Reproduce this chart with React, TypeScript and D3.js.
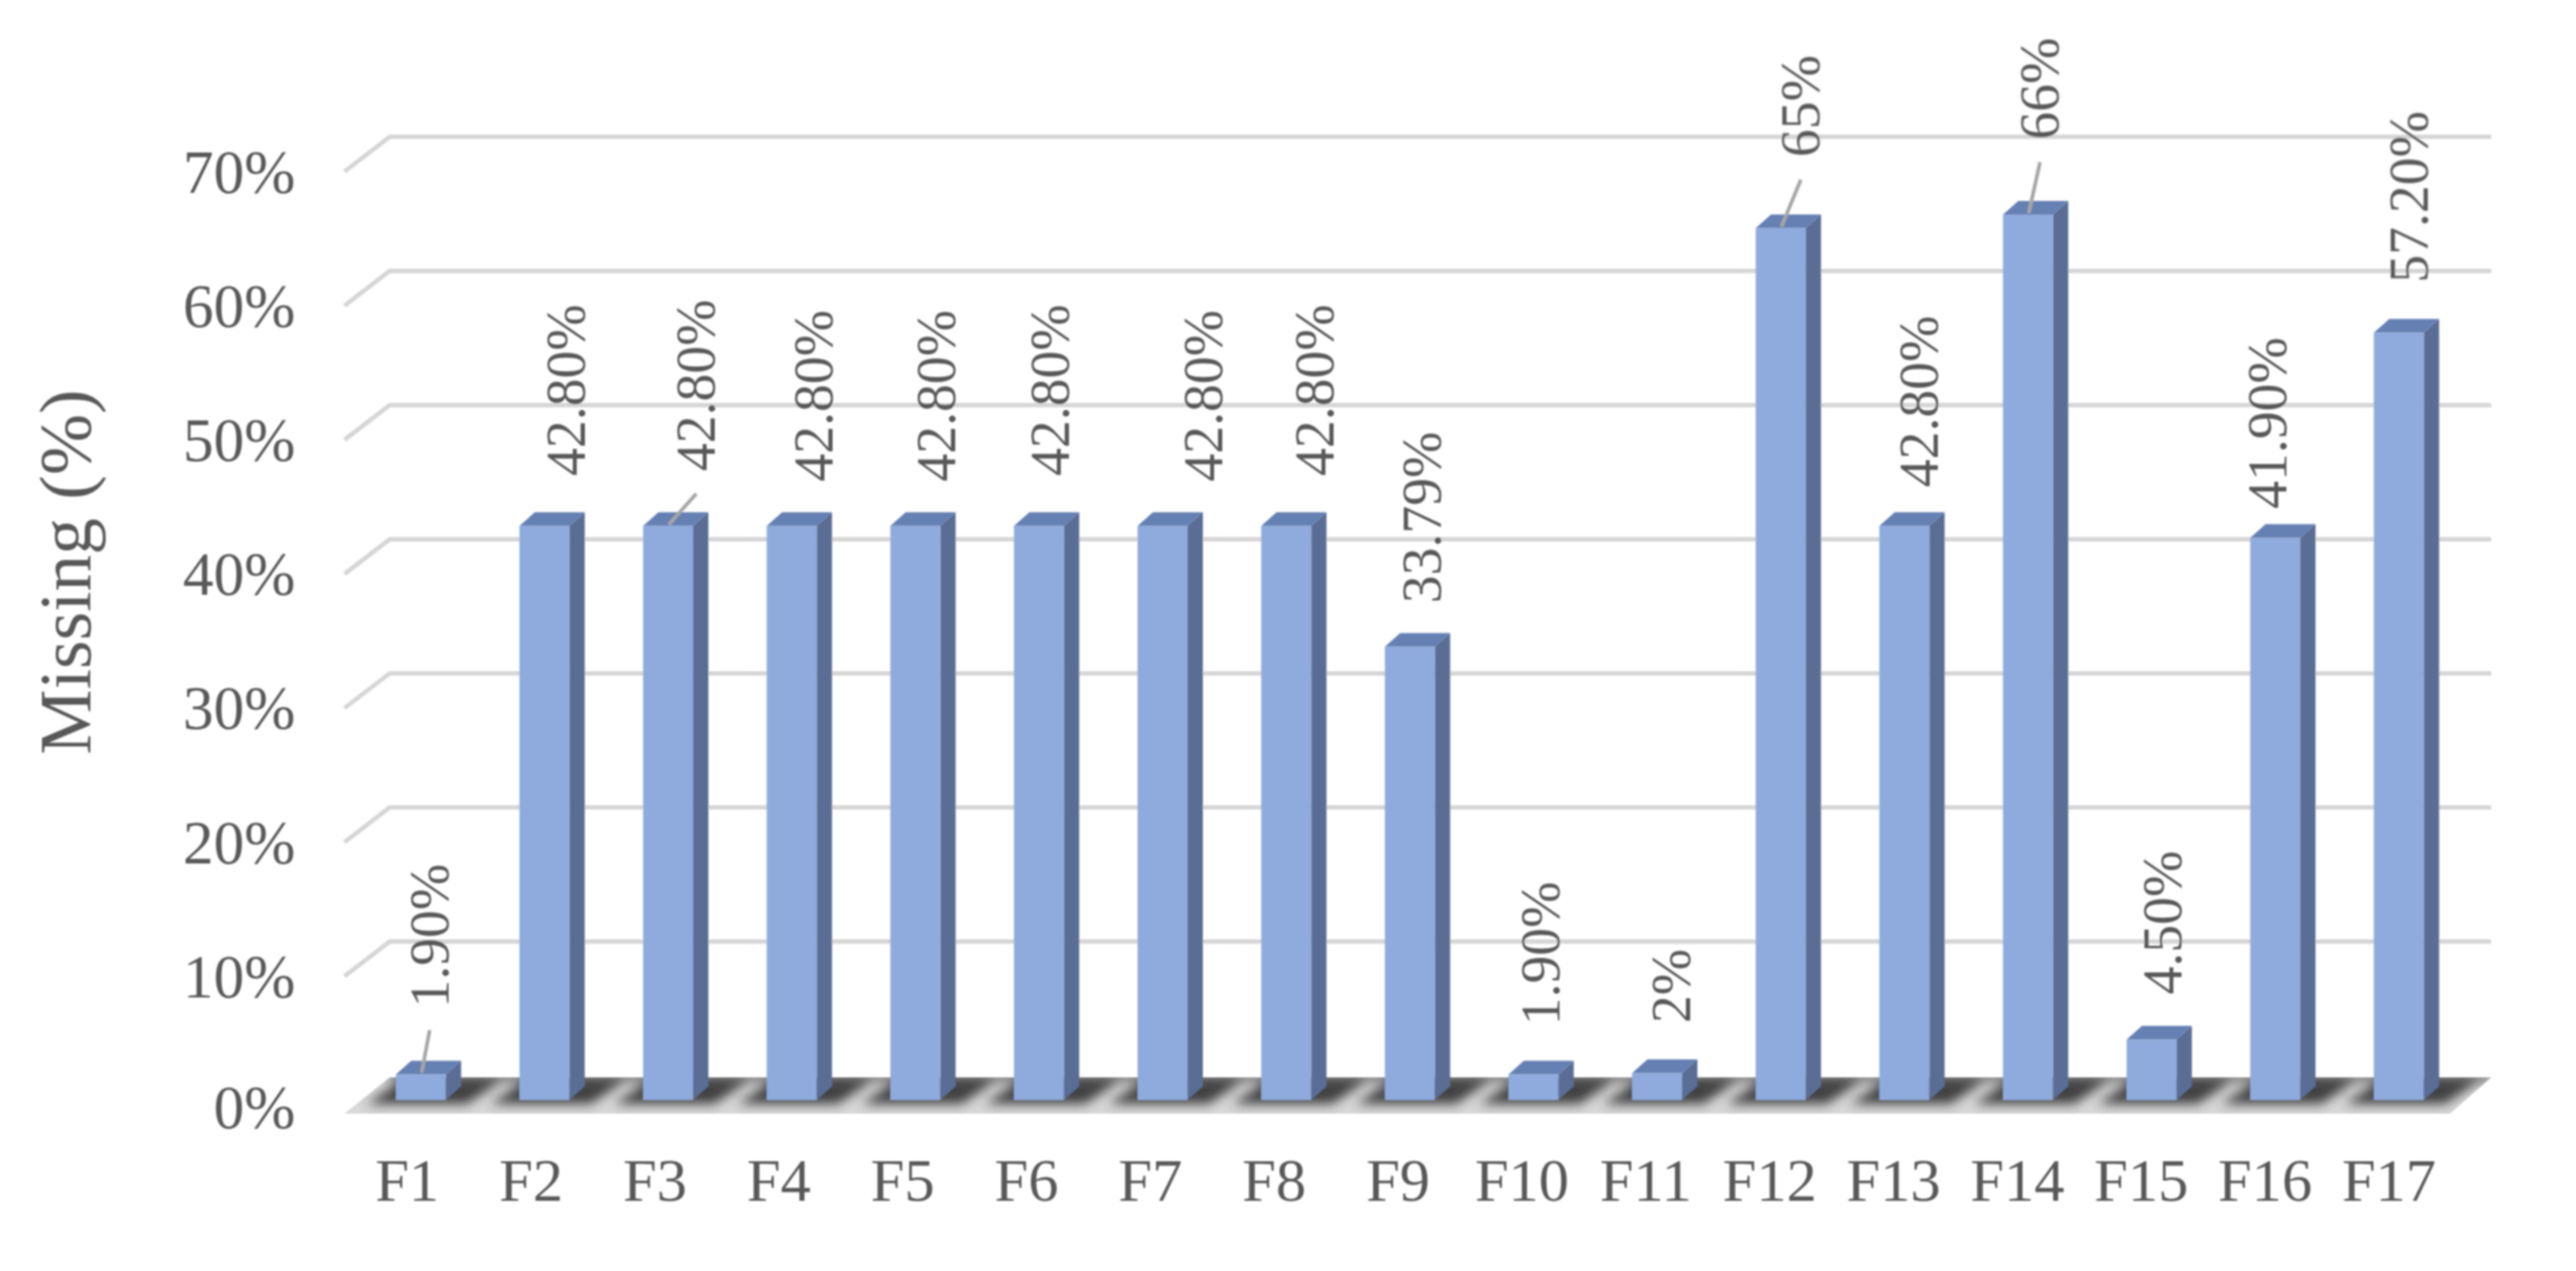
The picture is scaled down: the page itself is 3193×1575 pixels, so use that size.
import React from "react";
import * as d3 from "d3";

const categories = ["F1","F2","F3","F4","F5","F6","F7","F8","F9","F10","F11","F12","F13","F14","F15","F16","F17"];
const missing = [1.9,42.8,42.8,42.8,42.8,42.8,42.8,42.8,33.79,1.9,2,65,42.8,66,4.5,41.9,57.2];
const valueLabels = ["1.90%","42.80%","42.80%","42.80%","42.80%","42.80%","42.80%","42.80%","33.79%","1.90%","2%","65%","42.80%","66%","4.50%","41.90%","57.20%"];
const yTicks = [0,10,20,30,40,50,60,70];
const labelNudgeX = [11,27,35,28,26,14,51,36,15,9,18,25,19,15,14,-9,13];
const labelNudgeY = [-83,-62,-68,-55,-55,-62,-55,-62,-54,-61,-62,-88,-48,-93,-56,-36,-62];
const withLeader = ["F1","F3","F12","F14"];

const W = 3193, H = 1575;
const DX = 19, DY = 17;
const WALL_DX = 56, WALL_DY = 43;
const gridRight = 3088;
const TEXT = "#595959";
const FONT = "'Liberation Serif', 'Times New Roman', serif";

const y = d3.scaleLinear().domain([0, 70]).range([1363, 1363 - 70 * 16.62]);
const wallY = (v: number) => y(v) - 30;
const x = d3.scaleBand<string>().domain(categories).range([445, 3050]).paddingInner(0.596).paddingOuter(0.298);
const tickBand = d3.scaleBand<string>().domain(categories).range([427, 3037]);
const pct = (v: number) => d3.format("d")(v) + "%";
const poly = (pts: number[][]) => pts.map((p) => p.join(",")).join(" ");

export default function App() {
  const bw = x.bandwidth();
  const floorFrontY = wallY(0) + WALL_DY + 4;
  const floorBackY = wallY(0) + 2;
  const floorLeft = 427, floorRight = 3037;
  return (
    <svg width={W} height={H} viewBox={`0 0 ${W} ${H}`} style={{ position: "absolute", left: 0, top: 0, background: "#fff" }}>
      <defs>
        <filter id="soft" x="-2%" y="-2%" width="104%" height="104%"><feGaussianBlur stdDeviation="1" /></filter>
        <filter id="shadow" x="-30%" y="-60%" width="160%" height="220%"><feGaussianBlur stdDeviation="7" /></filter>
        <clipPath id="floorClip">
          <polygon points={poly([[floorLeft, floorFrontY],[floorLeft + WALL_DX, floorBackY],[gridRight, floorBackY],[floorRight, floorFrontY]])} />
        </clipPath>
      </defs>
      <g filter="url(#soft)">
        {yTicks.filter((t) => t > 0).map((t) => (
          <polyline key={t} fill="none" stroke="#d6d6d6" strokeWidth={5.5}
            points={poly([[floorLeft, wallY(t) + WALL_DY],[floorLeft + WALL_DX, wallY(t)],[gridRight, wallY(t)]])} />
        ))}

        <polygon points={poly([[floorLeft, floorFrontY],[floorLeft + WALL_DX, floorBackY],[gridRight, floorBackY],[floorRight, floorFrontY]])} fill="#d8d8d8" />
        <g clipPath="url(#floorClip)">
          <g filter="url(#shadow)" opacity={0.92}>
            <rect x={floorLeft + WALL_DX} y={floorBackY - 3} width={gridRight - floorLeft - WALL_DX} height={7} fill="#333" />
            {categories.map((c) => {
              const x0 = x(c)!;
              return (
                <polygon key={c} fill="#333"
                  points={poly([[x0 - 36, 1368],[x0 + 6, 1340],[x0 + bw + 68, 1340],[x0 + bw + 26, 1368]])} />
              );
            })}
          </g>
        </g>

        {categories.map((c, i) => {
          const x0 = x(c)!, x1 = x0 + bw, top = y(missing[i]), bot = y(0);
          return (
            <g key={c}>
              <polygon fill="#5a6d94" points={poly([[x1, top],[x1 + DX, top - DY],[x1 + DX, bot - DY],[x1, bot]])} />
              <polygon fill="#6580b2" points={poly([[x0, top],[x0 + DX, top - DY],[x1 + DX, top - DY],[x1, top]])} />
              <rect x={x0} y={top} width={bw} height={bot - top} fill="#8faadc" />
            </g>
          );
        })}

        {categories.map((c, i) => {
          if (!withLeader.includes(c)) return null;
          const cx = x(c)! + bw / 2, top = y(missing[i]);
          const lx = cx + labelNudgeX[i], ly = top + labelNudgeY[i] + 28;
          return <line key={c} x1={cx + 1} y1={top - 2} x2={lx} y2={ly} stroke="#a6a6a6" strokeWidth={4.5} />;
        })}

        {categories.map((c, i) => {
          const lx = x(c)! + bw / 2 + labelNudgeX[i], ly = y(missing[i]) + labelNudgeY[i];
          return (
            <text key={c} transform={`translate(${lx},${ly}) rotate(-90)`} textAnchor="start" dominantBaseline="central"
              fontFamily={FONT} fontSize={69} fill={TEXT}>{valueLabels[i]}</text>
          );
        })}

        {yTicks.map((t) => (
          <text key={t} x={366} y={wallY(t) + WALL_DY + (t === 0 ? -4 : 0)} textAnchor="end" dominantBaseline="central"
            fontFamily={FONT} fontSize={76} fill={TEXT}>{pct(t)}</text>
        ))}

        {categories.map((c) => (
          <text key={c} x={tickBand(c)! + tickBand.bandwidth() / 2 + 1} y={1488} textAnchor="middle"
            fontFamily={FONT} fontSize={75} fill={TEXT}>{c}</text>
        ))}

        <text transform="translate(81,709) rotate(-90)" textAnchor="middle" dominantBaseline="central"
          fontFamily={FONT} fontSize={91} fill={TEXT}>Missing (%)</text>
      </g>
    </svg>
  );
}
